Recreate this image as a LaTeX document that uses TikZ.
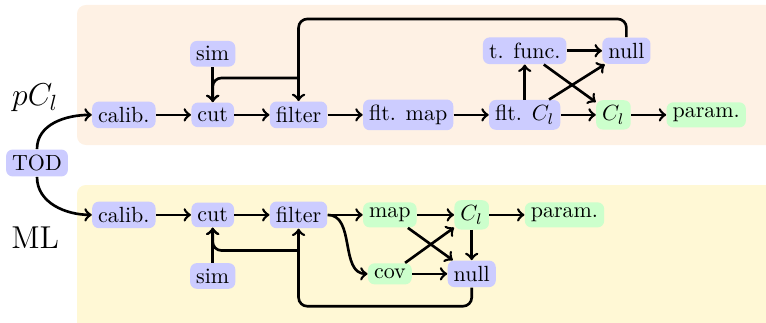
\documentclass[tikz,border=0pt]{standalone}
\usepackage{amsmath,amssymb}
\usepackage{xcolor}
\usepackage{tikz}
\usetikzlibrary{arrows,positioning,calc}
\definecolor{stepblue}{HTML}{CCCCFF}
\definecolor{outgreen}{HTML}{CCFFCC}
\definecolor{bandorange}{HTML}{FEF1E4}
\definecolor{bandyellow}{HTML}{FFF8D5}

\begin{document}
\begin{tikzpicture}[node distance=0.56cm,
  proc/.style={fill=stepblue, rounded corners=3pt, inner xsep=2.75pt, inner ysep=2.5pt},
  prod/.style={proc, fill=outgreen},
  flow/.style={->, very thick}]
\clip (-0.592,-2.544) rectangle (11.664,2.608);
% background bands for the two pipelines
\fill[bandorange, rounded corners=4pt] (0.64,0.288) rectangle (12.2,2.528);
\fill[bandyellow, rounded corners=4pt] (0.64,-3) rectangle (12.2,-0.352);
\node at (-0.03,1.04) {\Large $pC_l$};
\node at (-0.03,-1.2) {\Large ML};

\node[proc] (tod) at (0,0) {TOD};

% pseudo-Cl pipeline
\node[proc] (calibA) at (1.39,0.77) {calib.};
\node[proc, right=of calibA] (cutA) {cut};
\node[proc, right=of cutA] (filterA) {filter};
\node[proc, above=of cutA] (simA) {sim};
\node[proc, right=of filterA] (mapA) {flt. map};
\node[proc, right=of mapA] (fclA) {flt. $C_l$};
\node[proc, above=of fclA] (tfA) {t. func.};
\node[proc, right=of tfA] (nullA) {null};
\node[prod, right=of fclA] (clA) {$C_l$};
\node[prod, right=of clA] (parA) {param.};

\draw[flow] (tod.north) to[out=90,in=180] (calibA.west);
\draw[flow] (calibA) -- (cutA);
\draw[flow] (cutA) -- (filterA);
\draw[flow] (filterA) -- (mapA);
\draw[flow] (mapA) -- (fclA);
\draw[flow] (fclA) -- (clA);
\draw[flow] (clA) -- (parA);
\draw[flow] (simA) -- (cutA);
\draw[flow] (fclA) -- (tfA);
\draw[flow] (tfA) -- (nullA);
\draw[flow] (tfA) -- (clA);
\draw[flow] (fclA) -- (nullA);
\draw[flow, rounded corners] (nullA.north) -- ++(0,0.29) -| (filterA.north);
\draw[flow, rounded corners] ($(filterA.north)+(0,0.37)$) -| (cutA.north);

% ML pipeline
\node[proc] (calibB) at (1.39,-0.83) {calib.};
\node[proc, right=of calibB] (cutB) {cut};
\node[proc, right=of cutB] (filterB) {filter};
\node[proc, below=of cutB] (simB) {sim};
\node[prod, right=of filterB] (mapB) {map};
\node[prod, below=of mapB] (covB) {cov};
\node[proc, right=of covB] (nullB) {null};
\node[prod] (clB) at (mapB -| nullB) {$C_l$};
\node[prod, right=of clB] (parB) {param.};

\draw[flow] (tod.south) to[out=-90,in=180] (calibB.west);
\draw[flow] (calibB) -- (cutB);
\draw[flow] (cutB) -- (filterB);
\draw[flow] (filterB) -- (mapB);
\draw[flow] (filterB.east) to[out=0,in=180] (covB.west);
\draw[flow] (simB) -- (cutB);
\draw[flow] (mapB) -- (clB);
\draw[flow] (mapB) -- (nullB);
\draw[flow] (covB) -- (clB);
\draw[flow] (covB) -- (nullB);
\draw[flow] (clB) -- (nullB);
\draw[flow] (clB) -- (parB);
\draw[flow, rounded corners] (nullB.south) -- ++(0,-0.3) -| (filterB.south);
\draw[flow, rounded corners] ($(filterB.south)+(0,-0.35)$) -| (cutB.south);
\end{tikzpicture}
\end{document}
